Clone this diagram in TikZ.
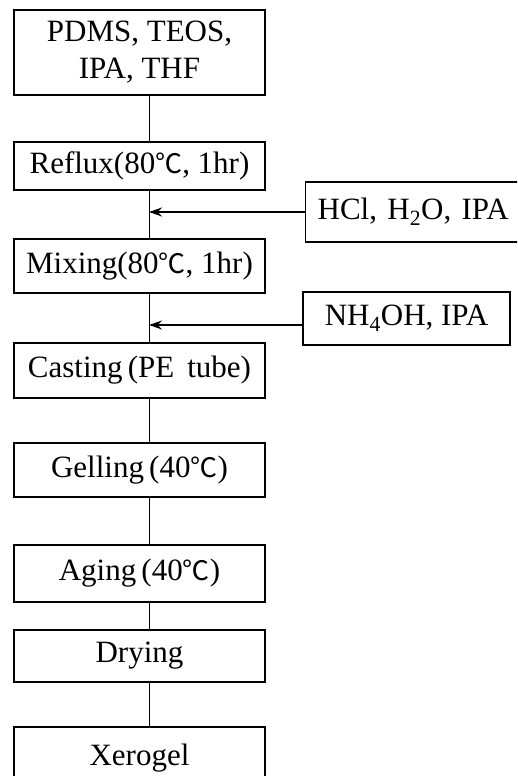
\documentclass[tikz,border=0pt]{standalone}
\usepackage{fontspec}
\setmainfont{Liberation Serif}
\newfontfamily\cjkfont{Noto Sans CJK KR}
\newcommand{\degc}{{\cjkfont\fontsize{27}{30}\selectfont ℃}}
\usetikzlibrary{arrows.meta}
\begin{document}
\begin{tikzpicture}[x=1pt,y=-1pt,
  box/.style={draw, line width=1.3pt, inner sep=0pt, align=center,
    font=\fontsize{31}{37}\selectfont},
  conn/.style={line width=0.8pt},
  arr/.style={line width=1.6pt, -{Stealth[length=13pt,width=9pt]}}]
\clip (0,0) rectangle (517,776);
\coordinate (lx) at (149,0);
\node[box, minimum width=251pt, minimum height=85pt] (a) at (139.5,52.5) {PDMS, TEOS,\\IPA, THF};
\node[box, minimum width=251pt, minimum height=48pt] (b) at (139.5,166) {Reflux(80\degc, 1hr)};
\node[box, minimum width=251pt, minimum height=54pt] (c) at (139.5,266) {Mixing(80\degc, 1hr)};
\node[box, minimum width=251pt, minimum height=55pt] (d) at (139.5,370.5) {Casting\,(PE\, tube)};
\node[box, minimum width=251pt, minimum height=54pt] (e) at (139.5,470) {Gelling\,(40\degc)};
\node[box, minimum width=251pt, minimum height=57pt] (f) at (139.5,573.5) {Aging\,(40\degc)};
\node[box, minimum width=251pt, minimum height=52pt] (g) at (139.5,656) {Drying};
\node[box, minimum width=251pt, minimum height=62pt] (h) at (139.5,758) {Xerogel};
\node[box, minimum height=60pt, anchor=west, inner xsep=12pt, text width=206pt, align=left] (hcl) at (305,212) {HCl, H\textsubscript{2}O, IPA};
\node[box, minimum width=207pt, minimum height=53pt] (nh) at (406.5,318.5) {NH\textsubscript{4}OH, IPA};
\draw[conn] (a.south -| lx) -- (b.north -| lx);
\draw[conn] (b.south -| lx) -- (c.north -| lx);
\draw[conn] (c.south -| lx) -- (d.north -| lx);
\draw[conn] (d.south -| lx) -- (e.north -| lx);
\draw[conn] (e.south -| lx) -- (f.north -| lx);
\draw[conn] (f.south -| lx) -- (g.north -| lx);
\draw[conn] (g.south -| lx) -- (h.north -| lx);
\draw[arr] (hcl.west) -- (hcl.west -| lx);
\draw[arr] ([yshift=-6.5pt]nh.west) -- ([yshift=-6.5pt]nh.west -| lx);
\end{tikzpicture}
\end{document}
